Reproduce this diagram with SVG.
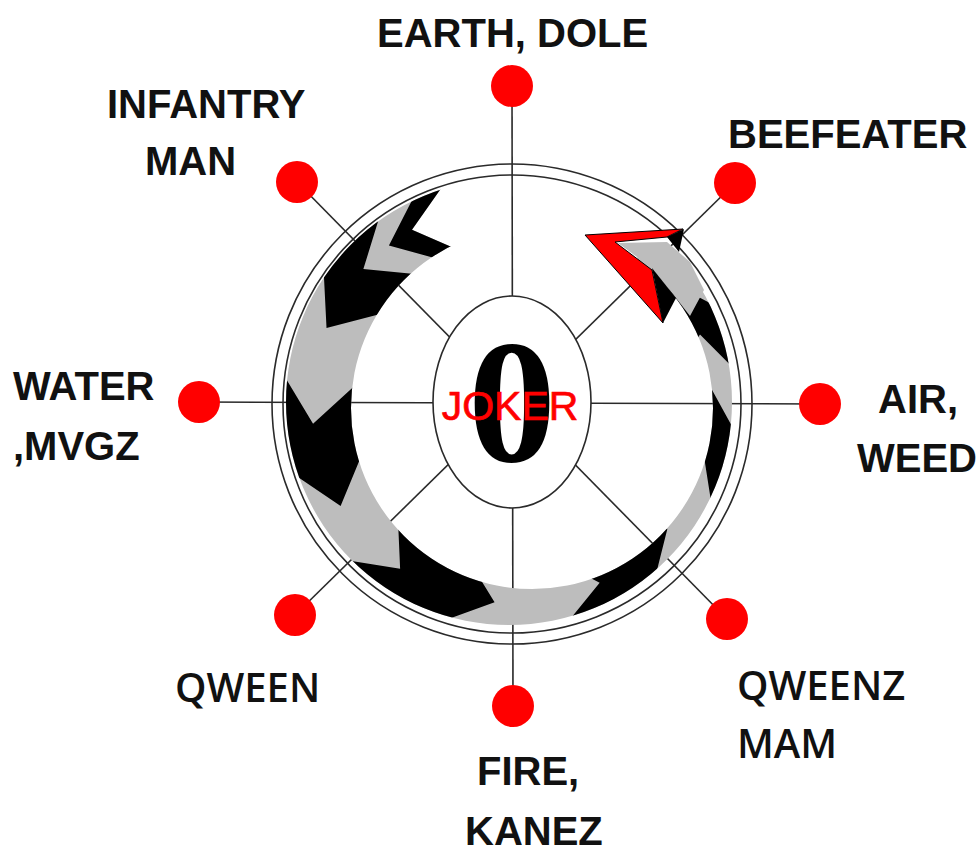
<svg xmlns="http://www.w3.org/2000/svg" xmlns:xlink="http://www.w3.org/1999/xlink" width="980" height="852" viewBox="0 0 980 852">
<style>
.spoke{stroke:#2a2a2a;stroke-width:1.6;fill:none}
.ring{stroke:#2a2a2a;stroke-width:1.6;fill:none}
.dot{fill:#ff0000}
.lbl{font-family:"Liberation Sans",Arial,sans-serif;font-weight:bold;font-size:40px;fill:#111}
.lbl2{font-family:"Open Sans","Liberation Sans",sans-serif;font-weight:600;font-size:40px;fill:#111}
.blk{fill:#000}
.gry{fill:#bdbdbd}
</style>
<defs>
<clipPath id="band"><path clip-rule="evenodd" d="M286 402a223 223 0 1 0 446 0a223 223 0 1 0 -446 0Z M351 408a181 181 0 1 0 362 0a181 181 0 1 0 -362 0Z"/></clipPath>
<polygon id="w8" points="240,0 192.3,-55.1 150,0 148.5,-20.9 182.7,-81.3 237.7,-33.4"/>
<polygon id="w17" points="240,0 192.3,-55.1 150,0 143.4,-43.9 167.7,-108.9 229.5,-70.2"/>
<polygon id="w20" points="240,0 192.3,-55.1 150,0 141,-51.3 161.8,-117.6 225.5,-82.1"/>
<polygon id="w25" points="240,0 192.3,-55.1 150,0 135.9,-63.4 150.9,-131.2 217.5,-101.4"/>
<polygon id="w29" points="240,0 192.3,-55.1 150,0 131.2,-72.7 141.4,-141.4 209.9,-116.4"/>
</defs>
<rect width="980" height="852" fill="#fff"/>
<g id="connectors">
<line class="spoke" x1="512" y1="86" x2="513" y2="706"/>
<line class="spoke" x1="199" y1="402" x2="820" y2="404"/>
<line class="spoke" x1="297" y1="182" x2="727" y2="619"/>
<line class="spoke" x1="735" y1="183" x2="295" y2="615"/>
</g>
<g id="rings">
<circle class="ring" cx="512" cy="404" r="240"/>
<circle class="ring" cx="512" cy="404" r="229"/>
</g>
<g id="hub">
<ellipse cx="512" cy="402" rx="79" ry="106" fill="#fff" stroke="#2a2a2a" stroke-width="1.6"/>
<text x="512" y="461" text-anchor="middle" font-family="'Liberation Serif','Times New Roman',serif" font-weight="bold" font-size="176" fill="#000">0</text>
<text x="510" y="420" text-anchor="middle" font-family="'Liberation Sans',Arial,sans-serif" font-size="41" fill="#ff0000" stroke="#ff0000" stroke-width="0.7">JOKER</text>
</g>
<g id="arrow">
<g clip-path="url(#band)">
<polygon class="gry" points="453.9,170.1 412,229.8 475.7,257.5 512,403 634.9,317 637.9,247.6 708.6,265.3 1000,265 1000,1000 0,1000 0,100 453.9,100"/>
<use xlink:href="#w8" class="blk" transform="translate(512,403) rotate(256)"/>
<use xlink:href="#w20" class="blk" transform="translate(512,403) rotate(238)"/>
<use xlink:href="#w25" class="blk" transform="translate(512,403) rotate(190)"/>
<use xlink:href="#w29" class="blk" transform="translate(512,403) rotate(140)"/>
<use xlink:href="#w25" class="blk" transform="translate(512,403) rotate(80)"/>
<use xlink:href="#w20" class="blk" transform="translate(512,403) rotate(32)"/>
<use xlink:href="#w17" class="blk" transform="translate(512,403) rotate(-4)"/>
</g>
<polygon points="585,235 683,229 667,237 615,242 652,270 663,323" fill="#ff0000" stroke="#000" stroke-width="1"/>
<polygon class="gry" points="618,243 667,242 690,262 704,290 690,316 676,298 652,268"/>
<polygon class="blk" points="667,237 684,229 679,252"/>
<polygon class="blk" points="652,268 663,323 676,298"/>
</g>
<g id="n-earth"><circle class="dot" cx="512" cy="86" r="21"/><text class="lbl" x="377" y="47">EARTH, DOLE</text></g>
<g id="n-infantry"><circle class="dot" cx="297" cy="182" r="21"/><text class="lbl" x="107" y="118">INFANTRY</text><text class="lbl" x="145" y="175">MAN</text></g>
<g id="n-beefeater"><circle class="dot" cx="735" cy="183" r="21"/><text class="lbl" x="728" y="148">BEEFEATER</text></g>
<g id="n-water"><circle class="dot" cx="199" cy="402" r="21"/><text class="lbl" x="13" y="400">WATER</text><text class="lbl" x="13" y="460">,MVGZ</text></g>
<g id="n-air"><circle class="dot" cx="820" cy="404" r="21"/><text class="lbl" x="878" y="413">AIR,</text><text class="lbl" x="857" y="472">WEED</text></g>
<g id="n-qween"><circle class="dot" cx="295" cy="615" r="21"/><text class="lbl2" x="175" y="702">QWEEN</text></g>
<g id="n-fire"><circle class="dot" cx="513" cy="706" r="21"/><text class="lbl" x="477" y="785">FIRE,</text><text class="lbl" x="465" y="845">KANEZ</text></g>
<g id="n-qweenz"><circle class="dot" cx="727" cy="619" r="21"/><text class="lbl2" x="737" y="700">QWEENZ</text><text class="lbl2" x="737" y="758">MAM</text></g>
</svg>
